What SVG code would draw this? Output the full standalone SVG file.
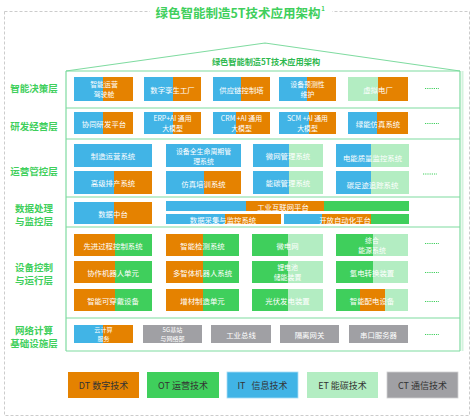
<svg xmlns="http://www.w3.org/2000/svg" width="473" height="420" viewBox="0 0 473 420">
<defs>
<style>
.O{fill:#E58200}.B{fill:#41B4E6}.G{fill:#3FCF5C}.L{fill:#B3EDC2}.C{fill:#A0A0A4}
.t{font-family:"Noto Sans CJK SC","Liberation Sans",sans-serif;font-size:7.4px;fill:#fff;text-anchor:middle;dominant-baseline:central}
.t2{font-family:"Noto Sans CJK SC","Liberation Sans",sans-serif;font-size:6.9px;fill:#fff;text-anchor:middle;dominant-baseline:central}
.t3{font-family:"Noto Sans CJK SC","Liberation Sans",sans-serif;font-size:6.1px;fill:#fff;text-anchor:middle;dominant-baseline:central}
.lab{font-family:"Noto Sans CJK SC","Liberation Sans",sans-serif;font-size:9.5px;font-weight:bold;fill:#3FCF5C;text-anchor:middle;dominant-baseline:central}
.lg{font-family:"Noto Sans CJK SC","Liberation Sans",sans-serif;font-size:9px;fill:#333;text-anchor:middle;dominant-baseline:central}
.dots{stroke:#3FCF5C;stroke-width:1;stroke-dasharray:1.2 1}
.frame{fill:none;stroke:#7FDBA0;stroke-width:1.2}
</style>
</defs>
<rect width="473" height="420" fill="#fff"/>
<rect x="4.5" y="11.5" width="465" height="404" fill="none" stroke="#CCCCCC" stroke-dasharray="3 2"/>
<rect x="150" y="3" width="182" height="17" fill="#fff"/>
<text x="238" y="12" font-family="Noto Sans CJK SC,sans-serif" font-size="12.5" font-weight="bold" fill="#3FCF5C" text-anchor="middle" dominant-baseline="central">绿色智能制造5T技术应用架构</text>
<text x="323" y="8" font-family="Noto Sans CJK SC,sans-serif" font-size="6" font-weight="bold" fill="#3FCF5C" text-anchor="middle" dominant-baseline="central">1</text>

<g id="frame">
<polyline class="frame" points="66,71 265,43 460,71"/>
<line class="frame" x1="66" y1="71" x2="460" y2="71"/>
<line class="frame" x1="66" y1="71" x2="66" y2="351"/>
<line class="frame" x1="460" y1="71" x2="460" y2="351"/>
<line x1="462.5" y1="71" x2="462.5" y2="351" stroke="#D4F3DE" stroke-width="2"/>
<line class="frame" x1="66" y1="108" x2="460" y2="108"/>
<line class="frame" x1="66" y1="139" x2="460" y2="139"/>
<line class="frame" x1="66" y1="197" x2="460" y2="197"/>
<line class="frame" x1="66" y1="227" x2="460" y2="227"/>
<line class="frame" x1="66" y1="318" x2="460" y2="318"/>
<line class="frame" x1="66" y1="351" x2="460" y2="351"/>
<text x="266" y="61" font-family="Noto Sans CJK SC,sans-serif" font-size="8.2" font-weight="bold" fill="#2DB84E" text-anchor="middle" dominant-baseline="central">绿色智能制造5T技术应用架构</text>
</g>

<g id="labels">
<text class="lab" x="34" y="88">智能决策层</text>
<text class="lab" x="34" y="126">研发经营层</text>
<text class="lab" x="34" y="171">运营管控层</text>
<text class="lab" x="34" y="207.5">数据处理</text>
<text class="lab" x="34" y="221">与监控层</text>
<text class="lab" x="34" y="266.5">设备控制</text>
<text class="lab" x="34" y="280">与运行层</text>
<text class="lab" x="34" y="329.5">网络计算</text>
<text class="lab" x="34" y="343">基础设施层</text>
</g>

<!-- Layer 1 -->
<g id="n1a"><rect class="B" x="74" y="77" width="29" height="24"/><rect class="O" x="103" y="77" width="30" height="24"/><text class="t2" x="104" y="84">智能运营</text><text class="t2" x="104" y="94.2">驾驶舱</text></g>
<g id="n1b"><rect class="B" x="144" y="77" width="29" height="24"/><rect class="O" x="173" y="77" width="28" height="24"/><text class="t" x="172.5" y="89">数字孪生工厂</text></g>
<g id="n1c"><rect class="B" x="213" y="77" width="28" height="24"/><rect class="O" x="241" y="77" width="29" height="24"/><text class="t" x="241.5" y="89">供应链控制塔</text></g>
<g id="n1d"><rect class="B" x="279" y="77" width="28" height="24"/><rect class="O" x="307" y="77" width="29" height="24"/><text class="t2" x="307.5" y="84">设备预测性</text><text class="t2" x="307.5" y="94.2">维护</text></g>
<g id="n1e"><rect class="L" x="348" y="77" width="30" height="24"/><rect class="O" x="378" y="77" width="30" height="24"/><text class="t" x="378" y="89">虚拟电厂</text></g>
<line class="dots" x1="425" y1="88.5" x2="439" y2="88.5"/>

<!-- Layer 2 -->
<g id="n2a"><rect class="B" x="74" y="112" width="29" height="22"/><rect class="O" x="103" y="112" width="30" height="22"/><text class="t" x="104" y="123">协同研发平台</text></g>
<g id="n2b"><rect class="B" x="144" y="112" width="29" height="22"/><rect class="O" x="173" y="112" width="28" height="22"/><text class="t2" x="172.5" y="118">ERP+AI 通用</text><text class="t2" x="172.5" y="128.2">大模型</text></g>
<g id="n2c"><rect class="B" x="213" y="112" width="23" height="22"/><rect class="O" x="236" y="112" width="34" height="22"/><text class="t2" x="241.5" y="118">CRM +AI 通用</text><text class="t2" x="241.5" y="128.2">大模型</text></g>
<g id="n2d"><rect class="B" x="279" y="112" width="30" height="22"/><rect class="O" x="309" y="112" width="27" height="22"/><text class="t2" x="307.5" y="118">SCM +AI 通用</text><text class="t2" x="307.5" y="128.2">大模型</text></g>
<g id="n2e"><rect class="B" x="348" y="112" width="29" height="22"/><rect class="O" x="377" y="112" width="31" height="22"/><text class="t" x="378" y="123">绿能仿真系统</text></g>
<line class="dots" x1="425" y1="123.5" x2="439" y2="123.5"/>

<!-- Layer 3 -->
<g id="n3a"><rect class="B" x="74" y="144" width="78" height="23"/><text class="t" x="113" y="155.5">制造运营系统</text></g>
<g id="n3b"><rect class="B" x="166" y="144" width="75" height="23"/><text class="t2" x="203.5" y="150.5">设备全生命周期管</text><text class="t2" x="203.5" y="160.7">理系统</text></g>
<g id="n3c"><rect class="B" x="253" y="144" width="36" height="23"/><rect class="L" x="289" y="144" width="34" height="23"/><text class="t" x="288" y="155.5">微网管理系统</text></g>
<g id="n3d"><rect class="B" x="336" y="144" width="35" height="23"/><rect class="L" x="371" y="144" width="38" height="23"/><text class="t" x="372.5" y="157">电能质量监控系统</text></g>
<g id="n3e"><rect class="B" x="74" y="171" width="40" height="23"/><rect class="O" x="114" y="171" width="38" height="23"/><text class="t" x="113" y="182.5">高级排产系统</text></g>
<g id="n3f"><rect class="B" x="166" y="171" width="38" height="23"/><rect class="O" x="204" y="171" width="37" height="23"/><text class="t" x="203.5" y="183">仿真培训系统</text></g>
<g id="n3g"><rect class="B" x="253" y="171" width="36" height="23"/><rect class="L" x="289" y="171" width="34" height="23"/><text class="t" x="288" y="182.5">能碳管理系统</text></g>
<g id="n3h"><rect class="B" x="336" y="171" width="35" height="23"/><rect class="L" x="371" y="171" width="38" height="23"/><text class="t" x="372.5" y="184">碳足迹追踪系统</text></g>
<line class="dots" x1="423" y1="174" x2="437" y2="174"/>

<!-- Layer 4 -->
<g id="n4a"><rect class="B" x="74" y="202" width="40" height="22"/><rect class="O" x="114" y="202" width="38" height="22"/><text class="t" x="113" y="213">数据中台</text></g>
<g id="n4b"><rect class="B" x="166" y="201" width="80" height="10"/><rect class="O" x="246" y="201" width="78" height="10"/><rect class="G" x="324" y="201" width="85" height="10"/><text class="t" x="283" y="206">工业互联网平台</text></g>
<g id="n4c"><rect class="B" x="166" y="214" width="59" height="10"/><rect class="O" x="225" y="214" width="56" height="10"/><text class="t" x="223" y="219">数据采集与监控系统</text></g>
<g id="n4d"><rect class="B" x="284" y="214" width="38" height="10"/><rect class="O" x="322" y="214" width="49" height="10"/><rect class="G" x="371" y="214" width="38" height="10"/><text class="t" x="345" y="219">开放自动化平台</text></g>

<!-- Layer 5 -->
<g id="n5a"><rect class="O" x="74" y="234" width="41" height="22"/><rect class="G" x="115" y="234" width="37" height="22"/><text class="t" x="113" y="245">先进过程控制系统</text></g>
<g id="n5b"><rect class="O" x="166" y="234" width="37" height="22"/><rect class="G" x="203" y="234" width="36" height="22"/><text class="t" x="202.5" y="245">智能检测系统</text></g>
<g id="n5c"><rect class="G" x="252" y="234" width="36" height="22"/><rect class="L" x="288" y="234" width="35" height="22"/><text class="t" x="287.5" y="245">微电网</text></g>
<g id="n5d"><rect class="G" x="336" y="234" width="37" height="22"/><rect class="L" x="373" y="234" width="35" height="22"/><text class="t2" x="372" y="240">综合</text><text class="t2" x="372" y="250.2">能源系统</text></g>
<line class="dots" x1="425" y1="243.5" x2="439" y2="243.5"/>
<g id="n5e"><rect class="O" x="74" y="261" width="41" height="22"/><rect class="G" x="115" y="261" width="37" height="22"/><text class="t" x="113" y="272">协作机器人单元</text></g>
<g id="n5f"><rect class="O" x="166" y="261" width="37" height="22"/><rect class="G" x="203" y="261" width="36" height="22"/><text class="t" x="202.5" y="272">多智体机器人系统</text></g>
<g id="n5g"><rect class="G" x="252" y="261" width="36" height="22"/><rect class="L" x="288" y="261" width="35" height="22"/><text class="t2" x="287.5" y="267">锂电池</text><text class="t2" x="287.5" y="277.2">储能装置</text></g>
<g id="n5h"><rect class="G" x="336" y="261" width="37" height="22"/><rect class="L" x="373" y="261" width="35" height="22"/><text class="t" x="372" y="272">氢电转换装置</text></g>
<line class="dots" x1="425" y1="272.5" x2="439" y2="272.5"/>
<g id="n5i"><rect class="O" x="74" y="289" width="41" height="22"/><rect class="G" x="115" y="289" width="37" height="22"/><text class="t" x="113" y="300">智能可穿戴设备</text></g>
<g id="n5j"><rect class="O" x="166" y="289" width="37" height="22"/><rect class="G" x="203" y="289" width="36" height="22"/><text class="t" x="202.5" y="300">增材制造单元</text></g>
<g id="n5k"><rect class="G" x="252" y="289" width="36" height="22"/><rect class="L" x="288" y="289" width="35" height="22"/><text class="t" x="287.5" y="300">光伏发电装置</text></g>
<g id="n5l"><rect class="G" x="336" y="289" width="24" height="22"/><rect class="O" x="360" y="289" width="25" height="22"/><rect class="L" x="385" y="289" width="23" height="22"/><text class="t" x="372" y="300">智能配电设备</text></g>
<line class="dots" x1="425" y1="301.5" x2="439" y2="301.5"/>

<!-- Layer 6 -->
<g id="n6a"><rect class="B" x="74" y="325" width="29" height="18"/><rect class="O" x="103" y="325" width="30" height="18"/><text class="t3" x="103.5" y="329.4">云计算</text><text class="t3" x="103.5" y="338.6">服务</text></g>
<g id="n6b"><rect class="C" x="143" y="325" width="59" height="18"/><text class="t3" x="172.5" y="329.4">5G基站</text><text class="t3" x="172.5" y="338.6">与网络部</text></g>
<g id="n6c"><rect class="C" x="211" y="325" width="60" height="18"/><text class="t" x="241" y="334">工业总线</text></g>
<g id="n6d"><rect class="C" x="280" y="325" width="59" height="18"/><text class="t" x="309.5" y="334">隔离网关</text></g>
<g id="n6e"><rect class="C" x="349" y="325" width="59" height="18"/><text class="t" x="378.5" y="334">串口服务器</text></g>
<line class="dots" x1="425" y1="334.5" x2="439" y2="334.5"/>

<!-- Legend -->
<g id="legend-dt"><rect class="O" x="68" y="372" width="71" height="26"/><text class="lg" x="103.5" y="385">DT  数字技术</text></g>
<g id="legend-ot"><rect class="G" x="147" y="372" width="72" height="26"/><text class="lg" x="183" y="385">OT  运营技术</text></g>
<g id="legend-it"><rect class="B" x="227" y="372" width="71" height="26" stroke="#A8DDF5" stroke-width="0.8"/><text class="lg" x="262.5" y="385" xml:space="preserve">IT   信息技术</text></g>
<g id="legend-et"><rect class="L" x="307" y="372" width="71" height="26"/><text class="lg" x="342.5" y="385">ET  能碳技术</text></g>
<g id="legend-ct"><rect class="C" x="387" y="372" width="71" height="26" stroke="#D0D0D2" stroke-width="0.8"/><text class="lg" x="422.5" y="385">CT  通信技术</text></g>
</svg>
